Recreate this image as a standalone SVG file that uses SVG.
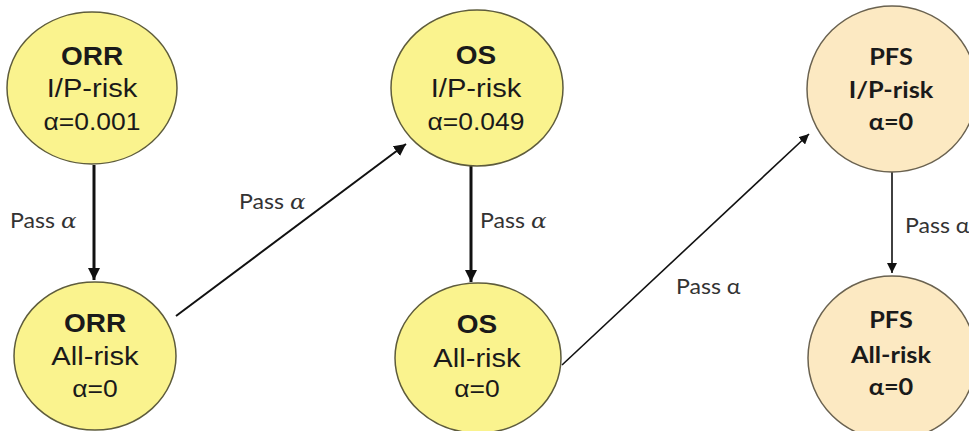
<svg xmlns="http://www.w3.org/2000/svg" width="969" height="431" viewBox="0 0 969 431">
  <defs>
    <style>
      .yel { fill: #faf38e; stroke: #5e5c3c; stroke-width: 1.5; }
      .peach { fill: #fce9c2; stroke: #6a6250; stroke-width: 1.5; }
      .t { font-family: "Liberation Sans", Arial, sans-serif; fill: #1a1a1a; text-anchor: middle; }
      .tb { font-weight: bold; font-size: 25px; }
      .t2 { font-size: 26px; }
      .t3 { font-size: 23px; }
      .p { font-family: Lato, "Liberation Sans", sans-serif; font-weight: bold; fill: #1a1a1a; text-anchor: middle; font-size: 22px; }
      .lbl { font-family: Lato, "Liberation Sans", sans-serif; fill: #333333; font-size: 21px; }
      .m { font-family: "DejaVu Serif", "Liberation Serif", serif; font-style: italic; }
      .edge { stroke: #111111; fill: none; }
    </style>
    <marker id="head" markerUnits="userSpaceOnUse" markerWidth="14" markerHeight="12" refX="12" refY="6" orient="auto">
      <path d="M0,0 L12,6 L0,12 Z" fill="#111111"/>
    </marker>
    <marker id="headS" markerUnits="userSpaceOnUse" markerWidth="12" markerHeight="10" refX="10" refY="5" orient="auto">
      <path d="M0,0 L10,5 L0,10 Z" fill="#111111"/>
    </marker>
  </defs>

  <rect width="969" height="431" fill="#ffffff"/>

  <!-- connectors -->
  <g id="connectors">
    <line class="edge" x1="94" y1="165" x2="94" y2="280" stroke-width="3" marker-end="url(#head)"/>
    <line class="edge" x1="176" y1="316" x2="406" y2="144" stroke-width="2" marker-end="url(#head)"/>
    <line class="edge" x1="471" y1="165" x2="471" y2="282" stroke-width="3" marker-end="url(#head)"/>
    <line class="edge" x1="562" y1="365" x2="809" y2="134" stroke-width="1.6" marker-end="url(#headS)"/>
    <line class="edge" x1="892" y1="172" x2="892" y2="273" stroke-width="1.6" marker-end="url(#headS)"/>

    <text class="lbl" transform="translate(10 228) scale(1.1 1)">Pass <tspan class="m">α</tspan></text>
    <text class="lbl" transform="translate(239 209) scale(1.1 1)">Pass <tspan class="m">α</tspan></text>
    <text class="lbl" transform="translate(480 228) scale(1.1 1)">Pass <tspan class="m">α</tspan></text>
    <text class="lbl" transform="translate(676 294) scale(1.1 1)">Pass α</text>
    <text class="lbl" transform="translate(905 233) scale(1.1 1)">Pass α</text>
  </g>

  <!-- ORR, intermediate/poor risk -->
  <g id="orr-ip">
    <ellipse class="yel" cx="92" cy="88" rx="85" ry="76"/>
    <text class="t tb" transform="translate(92 65) scale(1.12 1)">ORR</text>
    <text class="t t2" transform="translate(92 97) scale(1.12 1)">I/P-risk</text>
    <text class="t t3" transform="translate(92 130) scale(1.15 1)">α=0.001</text>
  </g>

  <!-- ORR, all risk -->
  <g id="orr-all">
    <ellipse class="yel" cx="95" cy="356" rx="81" ry="74"/>
    <text class="t tb" transform="translate(95 332) scale(1.12 1)">ORR</text>
    <text class="t t2" transform="translate(95 365) scale(1.12 1)">All-risk</text>
    <text class="t t3" transform="translate(95 397) scale(1.15 1)">α=0</text>
  </g>

  <!-- OS, intermediate/poor risk -->
  <g id="os-ip">
    <ellipse class="yel" cx="477" cy="88" rx="86" ry="78"/>
    <text class="t tb" transform="translate(476 64) scale(1.12 1)">OS</text>
    <text class="t t2" transform="translate(476 97) scale(1.12 1)">I/P-risk</text>
    <text class="t t3" transform="translate(476 130) scale(1.15 1)">α=0.049</text>
  </g>

  <!-- OS, all risk -->
  <g id="os-all">
    <ellipse class="yel" cx="478" cy="358" rx="83" ry="75"/>
    <text class="t tb" transform="translate(477 333) scale(1.12 1)">OS</text>
    <text class="t t2" transform="translate(477 367) scale(1.12 1)">All-risk</text>
    <text class="t t3" transform="translate(477 397) scale(1.15 1)">α=0</text>
  </g>

  <!-- PFS, intermediate/poor risk -->
  <g id="pfs-ip">
    <ellipse class="peach" cx="892" cy="89" rx="85" ry="83"/>
    <text class="p" transform="translate(891 65) scale(1.15 1)">PFS</text>
    <text class="p" transform="translate(891 98) scale(1.15 1)">I/P-risk</text>
    <text class="p" transform="translate(891 130) scale(1.15 1)">α=0</text>
  </g>

  <!-- PFS, all risk -->
  <g id="pfs-all">
    <ellipse class="peach" cx="892" cy="358" rx="84" ry="82"/>
    <text class="p" transform="translate(891 328) scale(1.15 1)">PFS</text>
    <text class="p" transform="translate(891 363) scale(1.15 1)">All-risk</text>
    <text class="p" transform="translate(891 395) scale(1.15 1)">α=0</text>
  </g>
</svg>
